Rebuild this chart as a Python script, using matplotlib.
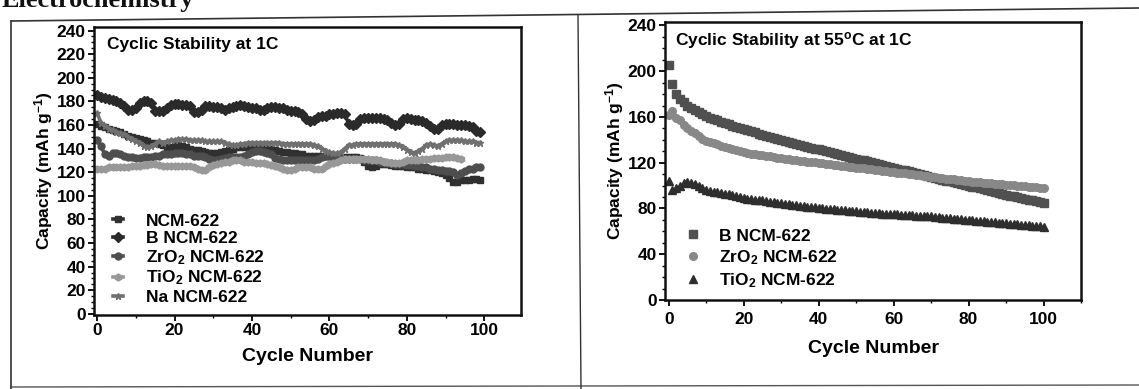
import numpy as np
import matplotlib
matplotlib.use("Agg")
import matplotlib.pyplot as plt
from matplotlib.lines import Line2D
from matplotlib.ticker import MultipleLocator

plt.rcParams['font.family'] = ['Liberation Sans', 'DejaVu Sans']
plt.rcParams['font.weight'] = 'bold'
plt.rcParams['mathtext.fontset'] = 'custom'
plt.rcParams['mathtext.rm'] = 'Liberation Sans:bold'
plt.rcParams['mathtext.bf'] = 'Liberation Sans:bold'
plt.rcParams['mathtext.default'] = 'bf'

# ---- left panel: cyclic stability at 1C (cycles 0..99) ----
ncm = [161, 159, 158, 157, 156, 155, 154, 152, 151, 150, 149, 148, 147, 146, 145, 145, 144, 143, 141, 141,
       142, 143, 142, 141, 140, 139, 139, 138, 137, 136, 136, 136, 137, 138, 139, 140, 141, 141, 141, 141,
       141, 141, 141, 141, 140, 140, 139, 138, 137, 137, 136, 136, 135, 135, 134, 134, 134, 134, 134, 134,
       134, 134, 133, 133, 133, 133, 133, 133, 132, 129, 125, 124, 125, 127, 127, 127, 126, 125, 125, 125,
       124, 124, 124, 123, 123, 122, 122, 121, 120, 119, 118, 115, 112, 112, 113, 113, 113, 114, 114, 113]
b_ncm = [185, 184, 183, 182, 181, 180, 179, 176, 173, 173, 174, 179, 180, 180, 179, 172, 172, 172, 174, 177,
         178, 178, 177, 177, 176, 171, 171, 173, 176, 176, 175, 175, 174, 173, 174, 175, 176, 177, 176, 175,
         174, 174, 173, 173, 174, 175, 175, 174, 174, 173, 172, 172, 171, 169, 165, 163, 164, 167, 168, 168,
         169, 169, 170, 170, 169, 161, 160, 161, 165, 166, 166, 166, 166, 166, 165, 164, 162, 160, 161, 165,
         166, 165, 164, 164, 163, 162, 159, 157, 157, 160, 161, 161, 161, 160, 160, 160, 159, 158, 155, 154]
zro2_ncm = [147, 142, 135, 134, 136, 136, 135, 134, 133, 133, 132, 132, 133, 133, 133, 134, 134, 135, 135, 135,
            136, 136, 136, 135, 135, 134, 134, 134, 133, 131, 130, 130, 131, 132, 133, 133, 133, 133, 134, 135,
            137, 138, 138, 137, 136, 135, 132, 131, 130, 130, 130, 130, 130, 130, 130, 130, 130, 131, 133, 134,
            134, 133, 132, 131, 131, 131, 131, 131, 131, 130, 130, 130, 130, 129, 129, 128, 128, 127, 127, 127,
            126, 126, 125, 125, 124, 124, 123, 123, 122, 122, 121, 121, 120, 118, 119, 121, 123, 123, 124, 124]
tio2_ncm = [123, 123, 123, 124, 124, 124, 124, 124, 124, 125, 125, 125, 126, 126, 127, 127, 126, 125, 125, 125,
            125, 125, 125, 125, 125, 124, 123, 122, 122, 124, 126, 127, 128, 129, 129, 130, 130, 130, 129, 129,
            129, 128, 128, 128, 127, 126, 125, 124, 123, 122, 122, 123, 124, 124, 124, 124, 123, 123, 123, 125,
            127, 128, 129, 130, 131, 131, 131, 131, 131, 131, 131, 130, 130, 130, 129, 129, 128, 128, 128, 129,
            130, 130, 130, 130, 131, 131, 131, 132, 132, 132, 133, 133, 133, 132, 131]
na_ncm = [170, 162, 159, 157, 156, 154, 153, 152, 150, 148, 146, 145, 142, 141, 142, 144, 146, 145, 146, 147,
          147, 148, 148, 148, 147, 147, 147, 147, 146, 146, 146, 146, 146, 145, 144, 143, 143, 144, 144, 145,
          145, 145, 145, 145, 145, 145, 145, 145, 144, 144, 144, 144, 144, 144, 144, 144, 143, 142, 140, 138,
          137, 136, 136, 137, 140, 143, 143, 144, 144, 144, 144, 144, 144, 144, 144, 144, 144, 144, 143, 141,
          139, 137, 136, 138, 140, 143, 144, 143, 142, 144, 146, 147, 147, 147, 147, 146, 146, 146, 145, 145]

# ---- right panel: cyclic stability at 55 C, 1C (cycles 0..100) ----
b_55 = [205, 189, 180, 176, 173, 170, 168, 166, 164, 162.5, 161, 159.5, 158, 157, 155.5, 154.5, 153.5, 152.5,
        151.5, 150.5, 149.5, 148.5, 147.5, 146.5, 145.5, 144.5, 143.5, 142.5, 141.5, 140.7, 140, 139, 138,
        137.2, 136.4, 135.6, 134.8, 134, 133.2, 132.4, 131.6, 130.8, 130, 129.2, 128.4, 127.6, 126.8, 126,
        125.2, 124.4, 123.6, 122.8, 122, 121.2, 120.4, 119.6, 118.8, 118, 117.2, 116.4, 115.6, 114.8, 114,
        113.2, 112.4, 111.6, 110.8, 110, 109.2, 108.4, 107.6, 106.8, 106, 105.2, 104.4, 103.6, 102.8, 102,
        101.3, 100.6, 99.9, 99.2, 98.4, 97.6, 96.8, 96, 95.2, 94.4, 93.6, 92.8, 92, 91.3, 90.6, 89.9, 89.2,
        88.5, 87.8, 87.1, 86.4, 85.7, 85]
zro2_55 = [162, 165, 159, 157, 153, 150, 148, 146, 143, 141, 139, 138, 137, 136, 135, 134, 133, 132, 131, 130,
           129, 128.5, 128, 127.5, 127, 126.5, 126, 125.5, 125, 124.5, 124, 123.5, 123, 122.6, 122.2, 121.8,
           121.4, 121, 120.6, 120.2, 119.8, 119.4, 119, 118.6, 118.2, 117.8, 117.4, 117, 116.6, 116.2, 115.8,
           115.4, 115, 114.6, 114.2, 113.8, 113.4, 113, 112.6, 112.2, 111.8, 111.4, 111, 110.6, 110.2, 109.8,
           109.4, 109, 108.6, 108.2, 107.8, 107.4, 107, 106.6, 106.2, 105.8, 105.4, 105, 104.6, 104.2, 103.8,
           103.5, 103.2, 102.9, 102.6, 102.3, 102, 101.7, 101.4, 101.1, 100.8, 100.5, 100.2, 99.9, 99.6, 99.3,
           99, 98.7, 98.4, 98.1, 97.8]
tio2_55 = [104, 96, 98, 100, 102, 103, 102, 101, 100, 98, 96, 95, 94.5, 94, 93.5, 93, 92.5, 92, 91, 90,
           89, 88.6, 88.2, 87.8, 87.4, 87, 86.5, 86, 85.5, 85, 84.5, 84.1, 83.7, 83.3, 82.9, 82.5, 82.1, 81.7,
           81.3, 80.9, 80.5, 80.2, 79.9, 79.6, 79.3, 79, 78.7, 78.4, 78.1, 77.8, 77.5, 77.2, 76.9, 76.6, 76.3,
           76, 75.8, 75.6, 75.4, 75.2, 75, 74.8, 74.6, 74.4, 74.2, 74, 73.8, 73.6, 73.4, 73.2, 73, 72.7, 72.4,
           72.1, 71.8, 71.5, 71.2, 70.9, 70.6, 70.3, 70, 69.7, 69.4, 69.1, 68.8, 68.5, 68.2, 67.9, 67.6, 67.3,
           67, 66.7, 66.4, 66.1, 65.8, 65.5, 65.2, 64.9, 64.6, 64.3, 64]

fig = plt.figure(figsize=(11.39, 3.89), dpi=100)

# scanned page border lines
fig.add_artist(Line2D([11/1139, 1.0], [1-21/389, 1-8/389], color='#333333', lw=1.2))
fig.add_artist(Line2D([11/1139, 1.0], [1-387/389, 1-385/389], color='#555555', lw=1.0))
fig.add_artist(Line2D([11/1139, 11/1139], [0, 1-21/389], color='#333333', lw=1.2))
fig.add_artist(Line2D([578/1139, 581/1139], [1-15/389, 0], color='#333333', lw=1.0))
# page heading, cut by the top of the scan
fig.text(2/1139, 1-7/389, 'Electrochemistry', family='Liberation Serif', fontsize=19,
         fontweight='bold', va='baseline', ha='left', color='#111111')

ax1 = fig.add_axes([94/1139, 1-315/389, 427/1139, 288/389])
ax2 = fig.add_axes([665/1139, 1-300/389, 416/1139, 278/389])

series_l = [
    (ncm, 'NCM-622', 's', '#303030'),
    (b_ncm, 'B NCM-622', 'D', '#2a2a2a'),
    (zro2_ncm, 'ZrO$_2$ NCM-622', 'o', '#4e4e4e'),
    (tio2_ncm, 'TiO$_2$ NCM-622', 'h', '#989898'),
    (na_ncm, 'Na NCM-622', '*', '#707070'),
]
for vals, lab, mk, col in series_l:
    ax1.plot(np.arange(len(vals)), vals, marker=mk, ms=5, color=col, lw=2.6,
             mec=col, label=lab)

ax1.set_xlim(-0.8, 109.5)
ax1.set_ylim(-1, 243)
ax1.xaxis.set_major_locator(MultipleLocator(20))
ax1.xaxis.set_minor_locator(MultipleLocator(10))
ax1.yaxis.set_major_locator(MultipleLocator(20))
ax1.yaxis.set_minor_locator(MultipleLocator(5))
ax1.text(0.03, 0.965, 'Cyclic Stability at 1C', transform=ax1.transAxes, fontsize=12.5,
         fontweight='bold', va='top')
ax1.set_xlabel('Cycle Number', fontsize=14, fontweight='bold', labelpad=7)
ax1.set_ylabel('Capacity (mAh g$^{-1}$)', fontsize=12.5, fontweight='bold', labelpad=1)
ax1.legend(loc='lower left', frameon=False, fontsize=12.5, handlelength=0.6,
           handletextpad=1.3, labelspacing=0.12, borderaxespad=0.2, bbox_to_anchor=(0.02, 0.0))

series_r = [
    (b_55, 'B NCM-622', 's', '#505050'),
    (zro2_55, 'ZrO$_2$ NCM-622', 'o', '#888888'),
    (tio2_55, 'TiO$_2$ NCM-622', '^', '#2e2e2e'),
]
for vals, lab, mk, col in series_r:
    ax2.plot(np.arange(len(vals)), vals, marker=mk, ms=5.5, color=col, lw=0,
             mec=col, label=lab)

ax2.set_xlim(-1, 110)
ax2.set_ylim(0, 243)
ax2.xaxis.set_major_locator(MultipleLocator(20))
ax2.xaxis.set_minor_locator(MultipleLocator(10))
ax2.yaxis.set_major_locator(MultipleLocator(40))
ax2.yaxis.set_minor_locator(MultipleLocator(10))
ax2.text(0.025, 0.97, 'Cyclic Stability at 55$^{\\mathrm{o}}$C at 1C', transform=ax2.transAxes,
         fontsize=12.5, fontweight='bold', va='top')
ax2.set_xlabel('Cycle Number', fontsize=14, fontweight='bold', labelpad=9)
ax2.set_ylabel('Capacity (mAh g$^{-1}$)', fontsize=12.5, fontweight='bold', labelpad=1)
ax2.legend(loc='lower left', frameon=False, fontsize=12.5, handlelength=0.6,
           handletextpad=1.2, labelspacing=0.25, borderaxespad=0.2, bbox_to_anchor=(0.03, 0.0))

for ax in (ax1, ax2):
    for sp in ax.spines.values():
        sp.set_linewidth(1.8)
        sp.set_color('#111111')
    ax.tick_params(which='major', direction='out', length=4, width=1.3, labelsize=12.5, pad=2)
    ax.tick_params(which='minor', direction='out', length=2, width=1)
    for t in ax.get_xticklabels() + ax.get_yticklabels():
        t.set_fontweight('bold')
ax2.tick_params(axis='x', which='major', pad=5)

fig.savefig('out.png', dpi=100)
